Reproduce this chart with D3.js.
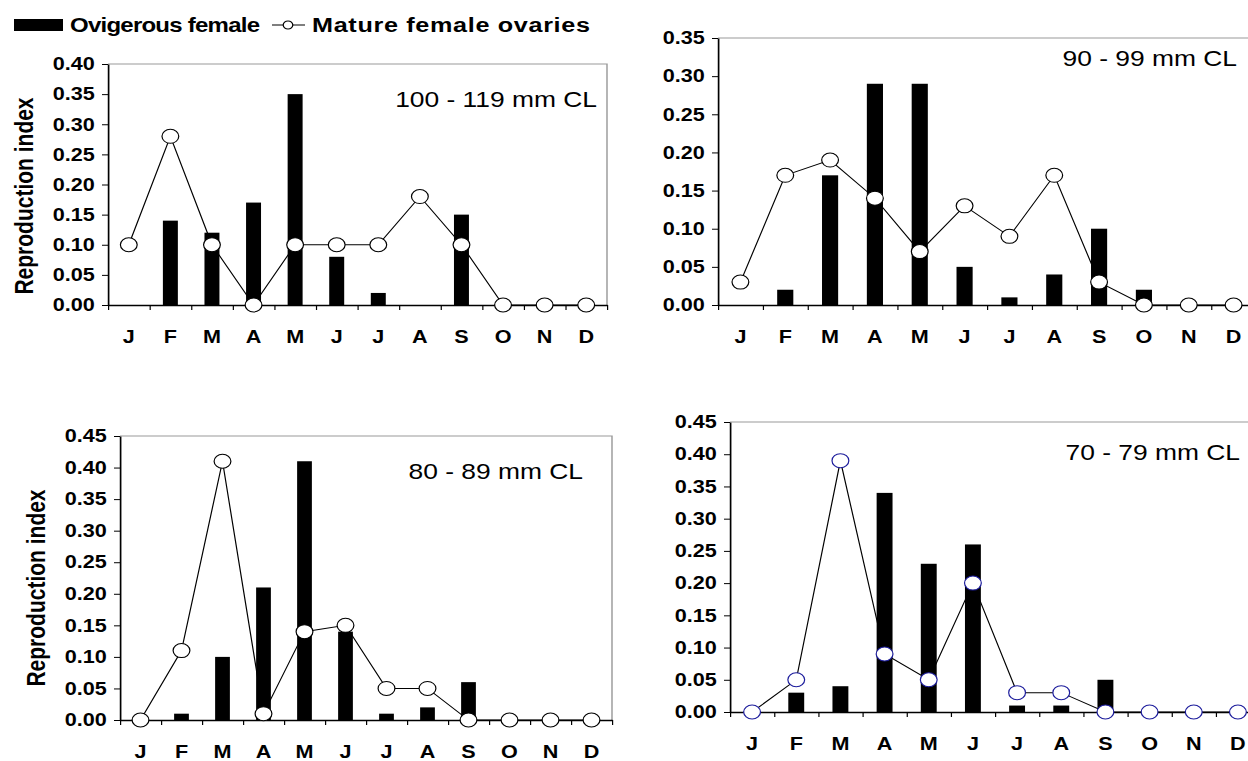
<!DOCTYPE html>
<html>
<head>
<meta charset="utf-8">
<script src="https://cdn.jsdelivr.net/npm/d3@7"></script>
<style>
  body { margin: 0; background: #fff; }
</style>
</head>
<body>
<div id="chart"></div>
<script>
const months = ["J", "F", "M", "A", "M", "J", "J", "A", "S", "O", "N", "D"];

// ovigerous females (bars) and mature female ovaries (line) per size class
const ovig100 = [0, 0.14, 0.12, 0.17, 0.35, 0.08, 0.02, 0, 0.15, 0, 0, 0];
const mature100 = [0.10, 0.28, 0.10, 0.00, 0.10, 0.10, 0.10, 0.18, 0.10, 0, 0, 0];

const ovig90 = [0, 0.02, 0.17, 0.29, 0.29, 0.05, 0.01, 0.04, 0.10, 0.02, 0, 0];
const mature90 = [0.03, 0.17, 0.19, 0.14, 0.07, 0.13, 0.09, 0.17, 0.03, 0, 0, 0];

const ovig80 = [0, 0.01, 0.10, 0.21, 0.41, 0.14, 0.01, 0.02, 0.06, 0, 0, 0];
const mature80 = [0, 0.11, 0.41, 0.01, 0.14, 0.15, 0.05, 0.05, 0, 0, 0, 0];

const ovig70 = [0, 0.03, 0.04, 0.34, 0.23, 0.26, 0.01, 0.01, 0.05, 0, 0, 0];
const mature70 = [0, 0.05, 0.39, 0.09, 0.05, 0.20, 0.03, 0.03, 0, 0, 0, 0];

const W = 1248, H = 761;
// the original figure is stretched sideways, so draw in a narrower box and stretch it
const SX = 1.2;
const sx = (v) => v / SX;
const FONT = "Arial, 'Liberation Sans', sans-serif";

const svg = d3.select("#chart")
  .append("svg")
  .attr("width", W)
  .attr("height", H)
  .attr("viewBox", `0 0 ${W / SX} ${H}`)
  .attr("preserveAspectRatio", "none")
  .style("font-family", FONT);

const panels = [
  { title: "100 - 119 mm CL", ovig: ovig100, mature: mature100, yMax: 0.40,
    box: [108, 64, 607, 305], titlePos: [597, 107], yTitle: [24, 196], markerStroke: "#000" },
  { title: "90 - 99 mm CL", ovig: ovig90, mature: mature90, yMax: 0.35,
    box: [718, 38, 1256, 305], titlePos: [1237, 66], yTitle: null, markerStroke: "#000" },
  { title: "80 - 89 mm CL", ovig: ovig80, mature: mature80, yMax: 0.45,
    box: [120, 436, 612, 720], titlePos: [583, 479], yTitle: [36, 588], markerStroke: "#000" },
  { title: "70 - 79 mm CL", ovig: ovig70, mature: mature70, yMax: 0.45,
    box: [730, 422, 1260, 712], titlePos: [1240, 460], yTitle: null, markerStroke: "#1c1c9c" },
];

panels.forEach((p) => {
  const [x0, y0, x1, y1] = p.box;

  const x = d3.scaleBand().domain(d3.range(12)).range([sx(x0), sx(x1)]);
  const xEdge = d3.scaleLinear().domain([0, 12]).range([sx(x0), sx(x1)]);
  const y = d3.scaleLinear().domain([0, p.yMax]).range([y1, y0]);

  const g = svg.append("g");

  // plot frame (top and right are light grey)
  g.append("path")
    .attr("d", `M${sx(x0)},${y0}H${sx(x1)}V${y1}`)
    .attr("fill", "none")
    .attr("stroke", "#9a9a9a")
    .attr("stroke-width", 1.2);

  const barW = x.bandwidth() * 0.36;

  g.append("g")
    .selectAll("rect")
    .data(p.ovig)
    .join("rect")
    .attr("x", (d, i) => x(i) + (x.bandwidth() - barW) / 2)
    .attr("y", (d) => y(d))
    .attr("width", barW)
    .attr("height", (d) => y(0) - y(d))
    .attr("fill", "#000");

  // y axis
  const yTicks = d3.range(0, Math.round(p.yMax / 0.05) + 1).map((k) => k * 0.05);
  const yAxis = g.append("g")
    .attr("transform", `translate(${sx(x0)},0)`)
    .call(d3.axisLeft(y).tickValues(yTicks).tickFormat(d3.format(".2f")).tickSize(5).tickSizeOuter(0).tickPadding(6));
  yAxis.selectAll("text")
    .attr("font-size", 18)
    .attr("font-weight", "bold")
    .attr("font-family", FONT)
    .attr("fill", "#000");
  yAxis.select(".domain").attr("stroke-width", 1.4);

  // x axis: ticks at month boundaries
  const xAxis = g.append("g")
    .attr("transform", `translate(0,${y1})`)
    .call(d3.axisBottom(xEdge).tickValues(d3.range(13)).tickFormat("").tickSize(5).tickSizeOuter(0));
  xAxis.select(".domain").attr("stroke-width", 1.4);

  // month labels
  const mAxis = g.append("g")
    .attr("transform", `translate(0,${y1})`)
    .call(d3.axisBottom(x).tickFormat((i) => months[i]).tickSize(0).tickPadding(25));
  mAxis.select(".domain").remove();
  mAxis.selectAll("text")
    .attr("font-size", 18)
    .attr("font-weight", "bold")
    .attr("font-family", FONT)
    .attr("fill", "#000");

  // mature ovaries line
  const cx = (i) => x(i) + x.bandwidth() / 2;
  g.append("path")
    .datum(p.mature)
    .attr("fill", "none")
    .attr("stroke", "#000")
    .attr("stroke-width", 1)
    .attr("d", d3.line().x((d, i) => cx(i)).y((d) => y(d)));

  g.append("g")
    .selectAll("circle")
    .data(p.mature)
    .join("circle")
    .attr("cx", (d, i) => cx(i))
    .attr("cy", (d) => y(d))
    .attr("r", 7)
    .attr("fill", "#fff")
    .attr("stroke", p.markerStroke)
    .attr("stroke-width", 1);

  // size class label
  g.append("text")
    .attr("x", sx(p.titlePos[0]))
    .attr("y", p.titlePos[1])
    .attr("text-anchor", "end")
    .attr("font-size", 22)
    .attr("fill", "#000")
    .text(p.title);

  if (p.yTitle) {
    g.append("text")
      .attr("transform", `translate(${sx(p.yTitle[0])},${p.yTitle[1]}) rotate(-90)`)
      .attr("text-anchor", "middle")
      .attr("dy", "0.35em")
      .attr("font-size", 21)
      .attr("font-weight", "bold")
      .attr("fill", "#000")
      .text("Reproduction index");
  }
});

// legend
const legend = svg.append("g");
legend.append("rect")
  .attr("x", sx(14)).attr("y", 19)
  .attr("width", sx(63) - sx(14)).attr("height", 12)
  .attr("fill", "#000");
legend.append("text")
  .attr("x", sx(70)).attr("y", 32)
  .attr("font-size", 20).attr("font-weight", "bold")
  .attr("textLength", sx(260) - sx(70))
  .attr("lengthAdjust", "spacing")
  .text("Ovigerous female");
legend.append("line")
  .attr("x1", sx(272)).attr("x2", sx(305))
  .attr("y1", 25).attr("y2", 25)
  .attr("stroke", "#000").attr("stroke-width", 1);
legend.append("circle")
  .attr("cx", sx(288)).attr("cy", 25).attr("r", 4)
  .attr("fill", "#fff").attr("stroke", "#000").attr("stroke-width", 1);
legend.append("text")
  .attr("x", sx(312)).attr("y", 32)
  .attr("font-size", 21).attr("font-weight", "bold")
  .attr("textLength", sx(590) - sx(312))
  .attr("lengthAdjust", "spacing")
  .text("Mature female ovaries");
</script>
</body>
</html>
